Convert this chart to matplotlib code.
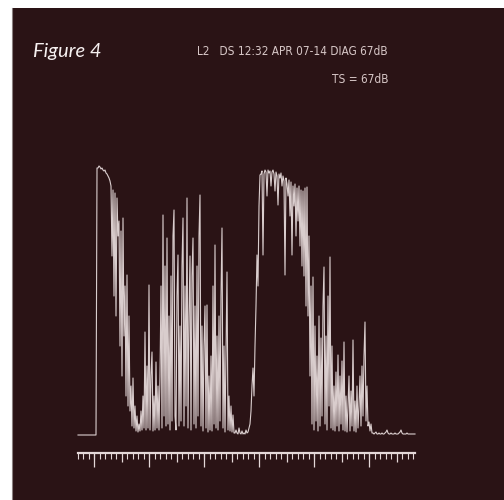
import numpy as np
import matplotlib
matplotlib.use("Agg")
import matplotlib.pyplot as plt
from matplotlib.ticker import FixedLocator, NullFormatter

# ---- data: echo amplitude per sample (screen units, 0 = baseline) ----
seg_a = [1] * 19
seg_b = [268, 268, 270, 269, 267, 268, 266, 265, 266, 263, 262, 260, 258, 255]
seg_c = [250, 180, 246, 140, 243, 120, 238, 200, 215, 90, 205, 60, 218, 100, 150, 40, 161, 30, 120, 25]
seg_d = [50, 10, 58, 8, 30, 5, 20, 4, 12, 5, 25, 6, 40, 8]
seg_e = [104, 6, 70, 8, 151, 6, 60, 84, 5, 40, 6, 74, 8, 50, 6]
seg_f = [60, 150, 8, 221, 20, 170, 10, 198, 12]
seg_g = [120, 6, 160, 15, 200, 226, 20, 6, 140, 181, 10, 110]
seg_h = [15, 170, 218, 10, 150, 30, 238, 8]
seg_i = [120, 180, 6, 160, 198, 12, 130, 8, 170, 20, 200, 241, 10]
seg_j = [110, 5, 90, 130, 8, 131, 4, 60, 6, 80, 5, 150, 12, 191, 8]
seg_k = [100, 6, 120, 15, 140, 208, 8, 90, 4, 80, 164, 6]
seg_l = [40, 5, 30, 4, 21, 3]
seg_m = [3, 6, 3, 2, 8, 3, 2, 5, 2, 3, 2, 6, 3, 4, 8, 12]
seg_n = [25, 50, 68, 40, 90, 130, 181, 150, 230, 261]
seg_o = [262, 265, 181, 262, 266, 264, 240, 266, 263, 265,
         250, 264, 266, 262, 245, 264, 260, 231, 262, 258,
         263, 250, 260, 255, 161, 258, 252, 240, 256, 220,
         254, 181, 250, 230, 252, 200, 248, 215, 250, 190,
         246, 170, 245, 160, 248, 130]
seg_p = [249, 120, 200, 60, 150, 12, 159, 6, 110, 15, 80, 5, 120]
seg_q = [10, 98, 20, 130, 169, 12, 100, 6, 140, 30, 179, 8, 90]
seg_r = [6, 50, 5, 64, 10, 81, 5, 60, 12, 75, 6, 94, 5]
seg_s = [40, 4, 30, 60, 5, 45, 10, 96, 5, 35, 4, 50, 8, 30, 60, 10, 70, 20, 80, 114, 15, 50]
seg_t = [10, 14, 5, 12, 3]
seg_u = [3, 2, 3, 4, 2, 2, 3, 2, 2, 3,
         2, 2, 3, 4, 6, 3, 2, 2, 3, 2,
         2, 2, 3, 2, 2, 2, 3, 4, 6, 3,
         2, 2, 2, 2, 3, 2, 2, 2, 2, 2,
         2, 2, 2]

header_text = "L2   DS 12:32 APR 07-14 DIAG 67dB"
ts_text = "TS = 67dB"
title_text = "Figure 4"

amplitude = np.array(seg_a + seg_b + seg_c + seg_d + seg_e + seg_f + seg_g + seg_h +
                     seg_i + seg_j + seg_k + seg_l + seg_m + seg_n + seg_o + seg_p +
                     seg_q + seg_r + seg_s + seg_t + seg_u, dtype=float)
samples = np.arange(len(amplitude))

# ruler ticks
ruler_minor = np.arange(0, 62)
ruler_mid = np.arange(8, 62, 10)
ruler_major = np.arange(3, 62, 10)

BG = "#2a1315"
TRACE = "#e4d8d8"
TXT = "#d6c6c6"

W, H = 504, 500
fig = plt.figure(figsize=(W / 100, H / 100), dpi=100)
fig.patch.set_facecolor("white")

# dark screen background
bg = fig.add_axes([12 / W, 0, 1 - 12 / W, 1 - 8 / H], zorder=-5)
bg.set_facecolor(BG)
bg.set_xticks([]); bg.set_yticks([])
for s in bg.spines.values():
    s.set_visible(False)
bg.spines["left"].set_visible(True)
bg.spines["left"].set_color("#8a8080")
bg.spines["left"].set_linewidth(0.8)

# main trace axes
ax = fig.add_axes([78 / W, 64 / H, 337 / W, 270 / H])
ax.set_facecolor("none")
ax.plot(samples, amplitude, color=TRACE, lw=0.8, clip_on=False, alpha=0.95)
ax.set_xlim(0, 337)
ax.set_ylim(0, 270)
ax.axis("off")

# ruler axes
rx = fig.add_axes([78 / W, 47 / H, 337 / W, 0.0001])
rx.set_facecolor("none")
rx.set_xlim(0, 61.3)
for s in ["top", "left", "right"]:
    rx.spines[s].set_visible(False)
rx.spines["bottom"].set_color(TRACE)
rx.spines["bottom"].set_linewidth(1.6)
rx.set_yticks([])
rx.xaxis.set_major_locator(FixedLocator(ruler_mid))
rx.xaxis.set_minor_locator(FixedLocator(ruler_minor))
rx.xaxis.set_major_formatter(NullFormatter())
rx.tick_params(axis="x", which="major", direction="out", length=6.5, width=0.9, color=TRACE)
rx.tick_params(axis="x", which="minor", direction="out", length=4.3, width=0.8, color=TRACE)
sec = rx.secondary_xaxis("bottom")
sec.set_xticks(ruler_major)
sec.set_xticklabels([])
sec.tick_params(axis="x", direction="out", length=10, width=0.9, color=TRACE)
sec.spines["bottom"].set_visible(False)

# texts
fig.text(33 / W, 1 - 57 / H, title_text, color="#f6f0f0", fontsize=14.5,
         style="italic", family=["Lato", "DejaVu Sans"], ha="left", va="baseline")
fig.text(388 / W, 1 - 55 / H, header_text, color=TXT, fontsize=8.5,
         family="DejaVu Sans", fontstretch="condensed", ha="right", va="baseline")
fig.text(388 / W, 1 - 83 / H, ts_text, color=TXT, fontsize=8.5,
         family="DejaVu Sans", fontstretch="condensed", ha="right", va="baseline")

fig.savefig("out.png", dpi=100, facecolor=fig.get_facecolor())
